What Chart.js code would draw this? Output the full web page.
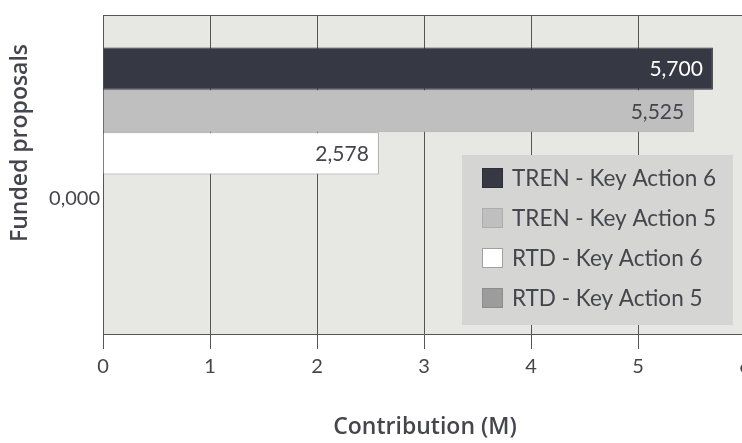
<!DOCTYPE html>
<html lang="en">
<head>
    <meta charset="UTF-8">
    <title>Funded proposals - Contribution</title>
    <script src="https://cdn.jsdelivr.net/npm/chart.js"></script>
    <style>
        html, body { margin: 0; padding: 0; background: #fff; overflow: hidden; }
        #wrap { width: 742px; height: 443px; overflow: hidden; }
        #box { width: 760px; height: 443px; }
    </style>
</head>
<body>
    <div id="wrap"><div id="box"><canvas id="fundChart"></canvas></div></div>

    <script>
        // data
        const categories = ['0,000'];
        const seriesNames = ['TREN - Key Action 6', 'TREN - Key Action 5', 'RTD - Key Action 6', 'RTD - Key Action 5'];
        const trenKA6 = [5.700];
        const trenKA5 = [5.525];
        const rtdKA6 = [2.578];
        const rtdKA5 = [0];
        const xTicks = [0, 1, 2, 3, 4, 5, 6];

        const fillColors = ['#363944', '#bfbfbf', '#ffffff', '#9c9c9c'];
        const edgeColors = ['#2c2f38', '#adadad', '#a0a0a0', '#8c8c8c'];
        const textColor = '#45454d';
        const fontFam = 'Lato, "Open Sans", sans-serif';
        const titleFam = '"Open Sans", Lato, sans-serif';

        const seriesData = [trenKA6, trenKA5, rtdKA6, rtdKA5];
        const datasets = seriesData.map((d, i) => ({
            label: seriesNames[i],
            data: d,
            backgroundColor: fillColors[i],
            borderColor: edgeColors[i],
            borderWidth: 1
        }));
        // two empty slots so the bars sit in the upper part of the band
        datasets.push({ label: '', data: [null], spacer: true });
        datasets.push({ label: '', data: [null], spacer: true });

        const chartDecor = {
            id: 'chartDecor',
            beforeDraw(chart) {
                const { ctx, chartArea: a } = chart;
                ctx.save();
                ctx.fillStyle = '#e7e7e4';
                ctx.fillRect(a.left, a.top, a.right - a.left, a.bottom - a.top);
                ctx.restore();
            },
            afterDraw(chart) {
                const { ctx, chartArea: a } = chart;
                ctx.save();
                // top frame line
                ctx.strokeStyle = '#555';
                ctx.lineWidth = 1;
                ctx.beginPath();
                ctx.moveTo(a.left, a.top + 0.5);
                ctx.lineTo(a.right, a.top + 0.5);
                ctx.stroke();

                // value labels at bar ends
                ctx.font = '21px ' + fontFam;
                ctx.textAlign = 'right';
                ctx.textBaseline = 'middle';
                chart.data.datasets.forEach((ds, i) => {
                    if (ds.spacer) return;
                    const meta = chart.getDatasetMeta(i);
                    meta.data.forEach((bar, j) => {
                        const v = ds.data[j];
                        if (!v) return;
                        ctx.fillStyle = i === 0 ? '#ffffff' : textColor;
                        ctx.fillText(v.toFixed(3).replace('.', ','), bar.x - 10, bar.y + 1);
                    });
                });

                // legend box inside the plot
                const bx = a.right - 283, by = a.bottom - 179, bw = 271, bh = 170;
                ctx.fillStyle = '#d5d5d3';
                ctx.fillRect(bx, by, bw, bh);
                ctx.font = '22.5px ' + fontFam;
                ctx.textAlign = 'left';
                chart.data.datasets.forEach((ds, i) => {
                    if (ds.spacer) return;
                    const cy = by + 23 + i * 40;
                    ctx.fillStyle = ds.backgroundColor;
                    ctx.fillRect(bx + 20, cy - 10, 21, 20);
                    ctx.strokeStyle = ds.borderColor;
                    ctx.strokeRect(bx + 20.5, cy - 9.5, 20, 19);
                    ctx.fillStyle = textColor;
                    ctx.fillText(ds.label, bx + 50, cy + 1);
                });

                // axis titles
                ctx.fillStyle = textColor;
                ctx.font = '600 23px ' + titleFam;
                ctx.textAlign = 'center';
                ctx.fillText('Contribution (M)', 425, 427);
                ctx.translate(20, 143);
                ctx.rotate(-Math.PI / 2);
                ctx.fillText('Funded proposals', 0, 0);
                ctx.restore();
            }
        };

        const ctx = document.getElementById('fundChart').getContext('2d');
        new Chart(ctx, {
            type: 'bar',
            data: { labels: categories, datasets: datasets },
            options: {
                indexAxis: 'y',
                responsive: true,
                maintainAspectRatio: false,
                animation: false,
                categoryPercentage: 0.796,
                barPercentage: 1,
                layout: { padding: { top: 10, right: 15, left: 0, bottom: 0 } },
                plugins: { legend: { display: false }, tooltip: { enabled: false } },
                scales: {
                    x: {
                        min: xTicks[0],
                        max: xTicks[xTicks.length - 1],
                        afterBuildTicks: (s) => { s.ticks = xTicks.map(v => ({ value: v })); },
                        afterFit: (s) => { s.height = 109; },
                        grid: { color: '#555', lineWidth: 1, tickLength: 15, drawTicks: true },
                        border: { display: true, color: '#555' },
                        ticks: { color: textColor, font: { family: fontFam, size: 20 }, padding: 6 }
                    },
                    y: {
                        afterFit: (s) => { s.width = 103; },
                        grid: { display: false, drawTicks: false },
                        border: { display: true, color: '#555' },
                        ticks: { color: textColor, font: { family: fontFam, size: 20 }, padding: 3, labelOffset: 24 }
                    }
                }
            },
            plugins: [chartDecor]
        });
    </script>
</body>
</html>
